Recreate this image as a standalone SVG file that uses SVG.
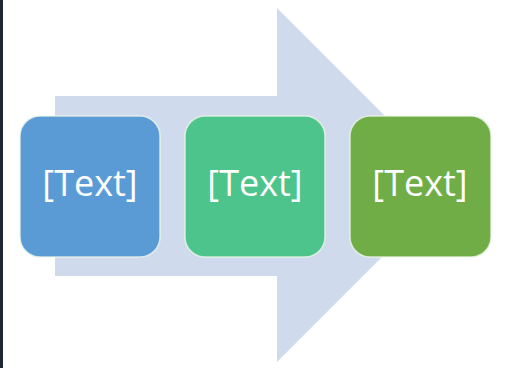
<svg xmlns="http://www.w3.org/2000/svg" width="519" height="368" viewBox="0 0 519 368">
  <style>
    .box { stroke: #eef6ea; stroke-width: 1.5; stroke-opacity: 0.8; }
    .label { font-family: "Open Sans", "Liberation Sans", sans-serif; font-size: 36px; fill: #ffffff; text-anchor: middle; }
  </style>
  <rect x="0" y="0" width="519" height="368" fill="#ffffff"/>
  <rect x="0" y="0" width="3" height="368" fill="#1c2733"/>

  <!-- background process arrow -->
  <g id="connectors">
    <polygon points="55,96 277,96 277,8 454,185 277,362 277,276 55,276" fill="#cfdaec"/>
  </g>

  <g id="step1">
    <rect class="box" x="20" y="116" width="140" height="141" rx="20" fill="#5b9bd5"/>
    <text class="label" x="90" y="196">[Text]</text>
  </g>
  <g id="step2">
    <rect class="box" x="185" y="116" width="140" height="141" rx="20" fill="#4cc48b"/>
    <text class="label" x="255" y="196">[Text]</text>
  </g>
  <g id="step3">
    <rect class="box" x="350" y="116" width="141" height="141" rx="20" fill="#70ad47"/>
    <text class="label" x="420" y="196">[Text]</text>
  </g>
</svg>
